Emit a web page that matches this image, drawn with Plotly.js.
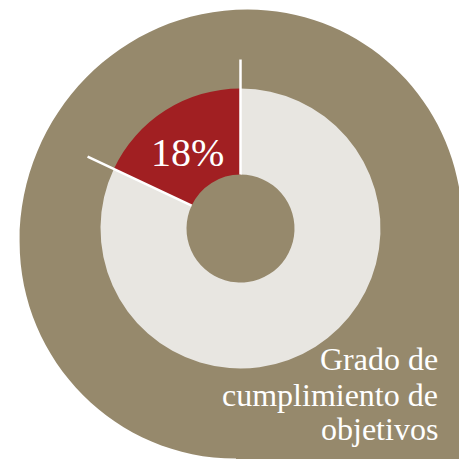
<!DOCTYPE html>
<html>
<head>
<meta charset="utf-8">
<script src="https://cdn.plot.ly/plotly-3.0.1.min.js"></script>
<style>html,body{margin:0;padding:0;background:#fff;}#chart{width:459px;height:459px;}</style>
</head>
<body>
<div id="chart"></div>
<script>
// Data
const categories = ['Cumplido', 'Pendiente'];
const values = [18, 82];
const labelLines = ['Grado de', 'cumplimiento de', 'objetivos'];

// Styling
const W = 459, H = 459;
const olive = '#96896c', red = '#a11f22', light = '#e8e6e1';
const cx = 240.5, cy = 228.5, rOut = 140, rIn = 54, rLine = 169;

const px = x => x / W;
const py = y => 1 - y / H;
const fx = x => (x / W).toFixed(5);
const fy = y => (1 - y / H).toFixed(5);

const total = values.reduce((a, b) => a + b, 0);
const pct = Math.round(100 * values[0] / total) + '%';

// boundary angles (measured counter-clockwise from 12 o'clock)
const bounds = [0, 360 * values[0] / total];
const lineShapes = bounds.map(a => {
  const t = a * Math.PI / 180;
  return {
    type: 'line', xref: 'paper', yref: 'paper', layer: 'above',
    x0: px(cx - rIn * Math.sin(t)), y0: py(cy - rIn * Math.cos(t)),
    x1: px(cx - rLine * Math.sin(t)), y1: py(cy - rLine * Math.cos(t)),
    line: {color: '#ffffff', width: 2.5}
  };
});

// Background blob: three rounded quarters + square bottom-right corner
const k = 0.5523;
const R = [462.2, 224], T = [247.6, 9.4], L = [19.6, 241.7], B = [236, 458.6];
const rTR = 214.6, rxTL = 228, ryTL = 232.3, rBL = 216.4;
const pt = p => fx(p[0]) + ',' + fy(p[1]);
let path = 'M ' + pt(R) +
  ' C ' + pt([R[0], R[1] - k * rTR]) + ' ' + pt([T[0] + k * rTR, T[1]]) + ' ' + pt(T) +
  ' C ' + pt([T[0] - k * rxTL, T[1]]) + ' ' + pt([L[0], L[1] - k * ryTL]) + ' ' + pt(L) +
  ' C ' + pt([L[0], L[1] + k * rBL]) + ' ' + pt([B[0] - k * rBL, B[1]]) + ' ' + pt(B) +
  ' L ' + pt([B[0], 480]) + ' L ' + pt([480, 480]) + ' L ' + pt([480, R[1]]) + ' Z';

// Plotly puts the first slice right of 12 o'clock; order so the achieved share sits left of it
const trace = {
  type: 'pie',
  labels: categories.slice().reverse(),
  values: values.slice().reverse(),
  sort: false,
  direction: 'clockwise',
  rotation: 0,
  hole: rIn / rOut,
  textinfo: 'none',
  hoverinfo: 'none',
  marker: {colors: [light, red], line: {width: 0}},
  domain: {x: [px(cx - rOut), px(cx + rOut)], y: [py(cy + rOut), py(cy - rOut)]},
  showlegend: false
};

const lineY = [359, 395, 429];
const annotations = labelLines.map((t, i) => ({
  xref: 'paper', yref: 'paper', x: px(439.5), y: py(lineY[i]),
  xanchor: 'right', yanchor: 'middle', showarrow: false, text: t,
  font: {family: 'Liberation Serif, serif', size: 32, color: '#ffffff'}
}));
annotations.push({
  xref: 'paper', yref: 'paper', x: px(187.5), y: py(152.5),
  xanchor: 'center', yanchor: 'middle', showarrow: false, text: pct,
  font: {family: 'Liberation Serif, serif', size: 40, color: '#ffffff'}
});

const layout = {
  width: W, height: H,
  margin: {l: 0, r: 0, t: 0, b: 0, pad: 0},
  paper_bgcolor: '#ffffff', plot_bgcolor: 'rgba(0,0,0,0)',
  showlegend: false,
  shapes: [{
    type: 'path', xref: 'paper', yref: 'paper', layer: 'below',
    path: path, fillcolor: olive, line: {width: 0}
  }].concat(lineShapes),
  annotations: annotations
};

Plotly.newPlot('chart', [trace], layout, {displayModeBar: false, staticPlot: true});
</script>
</body>
</html>
